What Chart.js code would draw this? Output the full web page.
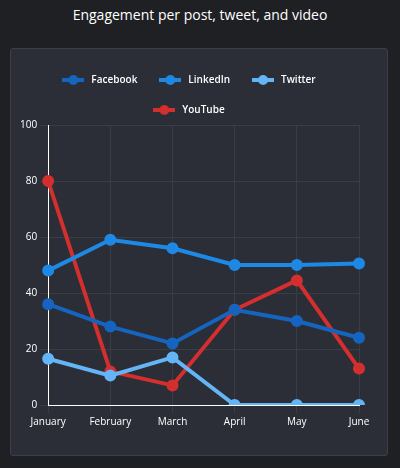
<!DOCTYPE html>
<html><head><meta charset="utf-8">
<script src="https://cdn.jsdelivr.net/npm/chart.js@4"></script>
<style>
html,body{margin:0;padding:0;background:#1f2024;width:400px;height:468px;overflow:hidden;font-family:"Open Sans",sans-serif}
h1{margin:0;position:absolute;top:5px;left:0;width:400px;text-align:center;color:#fff;font-size:14px;font-weight:500}
#card{position:absolute;left:10px;top:48px;width:376px;height:406px;background:#2b2e36;border:1px solid #3c3f47;border-radius:3px}
</style></head><body>
<h1>Engagement per post, tweet, and video</h1>
<div id="card"><canvas id="c" width="376" height="406"></canvas></div>
<script>
const categories=["January","February","March","April","May","June"];
const facebook=[36,28,22,34,30,24];
const linkedin=[48,59,56,50,50,50.5];
const twitter=[16.5,10.5,17,0,0,0];
const youtube=[80,12,7,34,44.5,13];
const names=["Facebook","LinkedIn","Twitter","YouTube"];
const colors=["#1565c0","#1e88e5","#64b5f6","#d32f2f"];
const series=[facebook,linkedin,twitter,youtube];
function icon(col){const c=document.createElement('canvas');c.width=22;c.height=10;const x=c.getContext('2d');x.fillStyle=col;x.fillRect(0,3,22,4);x.beginPath();x.arc(11,5,5,0,Math.PI*2);x.fill();return c;}
new Chart(document.getElementById('c'),{type:'line',
data:{labels:categories,datasets:series.map((d,i)=>({label:names[i],data:d,borderColor:colors[i],backgroundColor:colors[i],borderWidth:4,pointRadius:4,pointHoverRadius:5,tension:0}))},
options:{responsive:false,animation:false,
layout:{padding:{left:6,right:28,top:6,bottom:24}},
plugins:{legend:{labels:{color:'#fff',font:{family:'Open Sans',size:10,weight:'600'},usePointStyle:true,pointStyleWidth:26,boxHeight:10,padding:20,
generateLabels:ch=>ch.data.datasets.map((ds,i)=>({text:ds.label,fillStyle:ds.borderColor,strokeStyle:ds.borderColor,fontColor:'#fff',pointStyle:icon(ds.borderColor),datasetIndex:i,lineWidth:0}))}}},
scales:{x:{grid:{color:'#3a3d46'},border:{color:'#fff'},ticks:{color:'#fff',font:{family:'Open Sans',size:10}}},
y:{min:0,max:100,ticks:{stepSize:20,color:'#fff',font:{family:'Open Sans',size:10}},grid:{color:'#3a3d46'},border:{color:'#fff'}}}}});
</script></body></html>
